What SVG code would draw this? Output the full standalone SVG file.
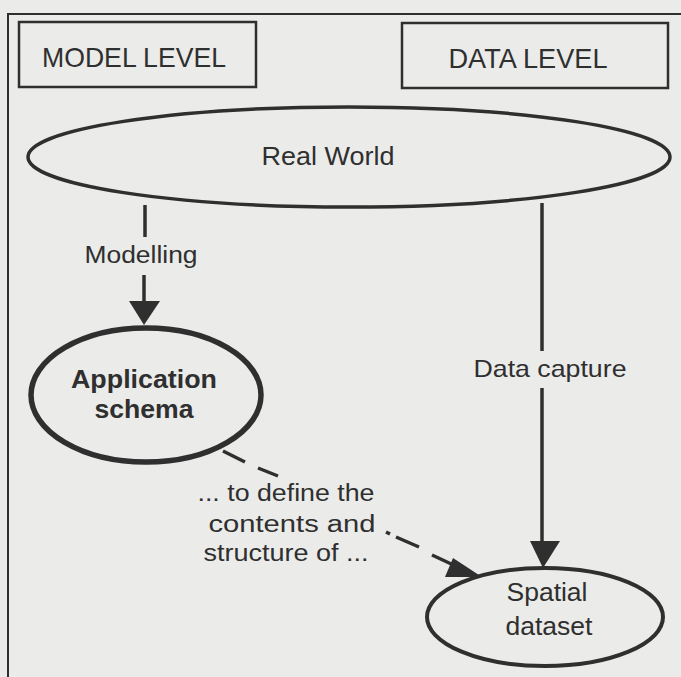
<svg xmlns="http://www.w3.org/2000/svg" width="681" height="677" viewBox="0 0 681 677">
<defs>
<style>
.t{font-family:"Liberation Sans",Arial,sans-serif;fill:#2f2f2f;text-anchor:middle}
.n{fill:none;stroke:#2f2f2f}
.c{fill:none;stroke:#2f2f2f;stroke-width:3.5}
.h{fill:#2f2f2f}
</style>
</defs>
<rect width="681" height="677" fill="#ebebe9"/>
<path d="M8,690 L8,14 L690,14" fill="none" stroke="#2f2f2f" stroke-width="2"/>
<g id="model-level">
<rect x="19" y="22" width="237" height="65" class="n" stroke-width="2.5"/>
<text x="134" y="67" class="t" font-size="28" textLength="184" lengthAdjust="spacingAndGlyphs">MODEL LEVEL</text>
</g>
<g id="data-level">
<rect x="402" y="23" width="266" height="65" class="n" stroke-width="2.5"/>
<text x="528" y="68" class="t" font-size="28" textLength="159" lengthAdjust="spacingAndGlyphs">DATA LEVEL</text>
</g>
<g id="real-world">
<ellipse cx="349" cy="157" rx="321" ry="50" class="n" stroke-width="3.5"/>
<text x="328" y="165" class="t" font-size="25" textLength="133" lengthAdjust="spacingAndGlyphs">Real World</text>
</g>
<g id="application-schema">
<ellipse cx="146" cy="395" rx="115" ry="67" class="n" stroke-width="5.5"/>
<text x="144" y="388" class="t" font-size="25" font-weight="bold" textLength="146" lengthAdjust="spacingAndGlyphs">Application</text>
<text x="144" y="418" class="t" font-size="25" font-weight="bold" textLength="99" lengthAdjust="spacingAndGlyphs">schema</text>
</g>
<g id="spatial-dataset">
<ellipse cx="545" cy="617" rx="118" ry="49" class="n" stroke-width="4"/>
<text x="547" y="601" class="t" font-size="25" textLength="81" lengthAdjust="spacingAndGlyphs">Spatial</text>
<text x="549" y="635" class="t" font-size="25" textLength="87" lengthAdjust="spacingAndGlyphs">dataset</text>
</g>
<g id="connectors">
<line x1="145" y1="205" x2="145" y2="237" class="c"/>
<line x1="144" y1="275" x2="144" y2="303" class="c"/>
<path d="M129,301 L160,301 L144,325 z" class="h"/>
<line x1="542" y1="203" x2="542" y2="351" class="c"/>
<line x1="542" y1="388" x2="542" y2="543" class="c"/>
<path d="M530,541 L560,541 L543,568 z" class="h"/>
<line x1="223" y1="451" x2="245" y2="462" class="c"/>
<line x1="258" y1="468" x2="278" y2="476" class="c"/>
<line x1="386" y1="532" x2="390" y2="534" class="c"/>
<line x1="396" y1="537" x2="419" y2="547" class="c"/>
<line x1="432" y1="555" x2="462" y2="569" class="c"/>
<path d="M453,558 L445,577 L482,577 z" class="h"/>
<text x="286" y="501" class="t" font-size="23" textLength="177" lengthAdjust="spacingAndGlyphs">... to define the</text>
<text x="292" y="532" class="t" font-size="23" textLength="167" lengthAdjust="spacingAndGlyphs">contents and</text>
<text x="286" y="561" class="t" font-size="23" textLength="165" lengthAdjust="spacingAndGlyphs">structure of ...</text>
<text x="141" y="263" class="t" font-size="23" textLength="113" lengthAdjust="spacingAndGlyphs">Modelling</text>
<text x="550" y="377" class="t" font-size="24" textLength="153" lengthAdjust="spacingAndGlyphs">Data capture</text>
</g>
</svg>
